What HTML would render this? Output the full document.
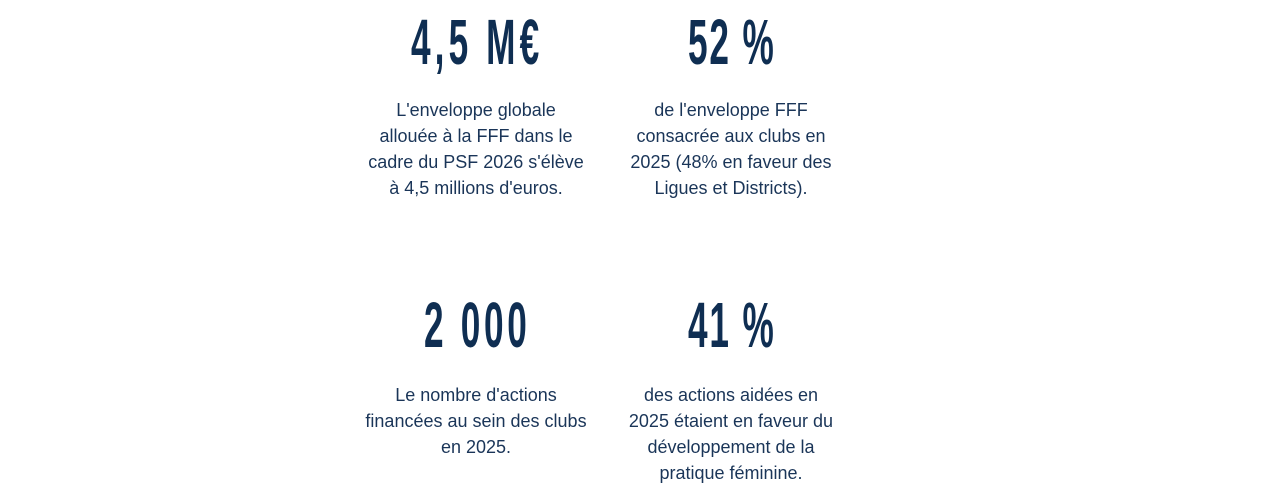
<!DOCTYPE html>
<html><head><meta charset="utf-8"><style>html,body{margin:0;padding:0;background:#fff}svg{display:block}</style></head>
<body>
<svg width="1267" height="498" xmlns="http://www.w3.org/2000/svg">
<g fill="#0f2e52" font-family="Liberation Sans, sans-serif" font-weight="bold" font-size="64">
<g transform="translate(411,64) scale(0.55,1)"><text x="0" y="0" textLength="233" lengthAdjust="spacing">4,5 M€</text></g>
<g transform="translate(688,64) scale(0.55,1)"><text x="0" y="0" textLength="156" lengthAdjust="spacing">52 %</text></g>
<g transform="translate(424,347) scale(0.55,1)"><text x="0" y="0" textLength="187" lengthAdjust="spacing">2 000</text></g>
<g transform="translate(688,347) scale(0.55,1)"><text x="0" y="0" textLength="156" lengthAdjust="spacing">41 %</text></g>
</g>
<g fill="#1a3558" font-family="Liberation Sans, sans-serif" font-size="18" text-anchor="middle">
<text x="476" y="116">L'enveloppe globale</text>
<text x="476" y="142">allouée à la FFF dans le</text>
<text x="476" y="168">cadre du PSF 2026 s'élève</text>
<text x="476" y="194">à 4,5 millions d'euros.</text>
<text x="731" y="116">de l'enveloppe FFF</text>
<text x="731" y="142">consacrée aux clubs en</text>
<text x="731" y="168">2025 (48% en faveur des</text>
<text x="731" y="194">Ligues et Districts).</text>
<text x="476" y="401">Le nombre d'actions</text>
<text x="476" y="427">financées au sein des clubs</text>
<text x="476" y="453">en 2025.</text>
<text x="731" y="401">des actions aidées en</text>
<text x="731" y="427">2025 étaient en faveur du</text>
<text x="731" y="453">développement de la</text>
<text x="731" y="479">pratique féminine.</text>
</g>
</svg>
</body></html>
